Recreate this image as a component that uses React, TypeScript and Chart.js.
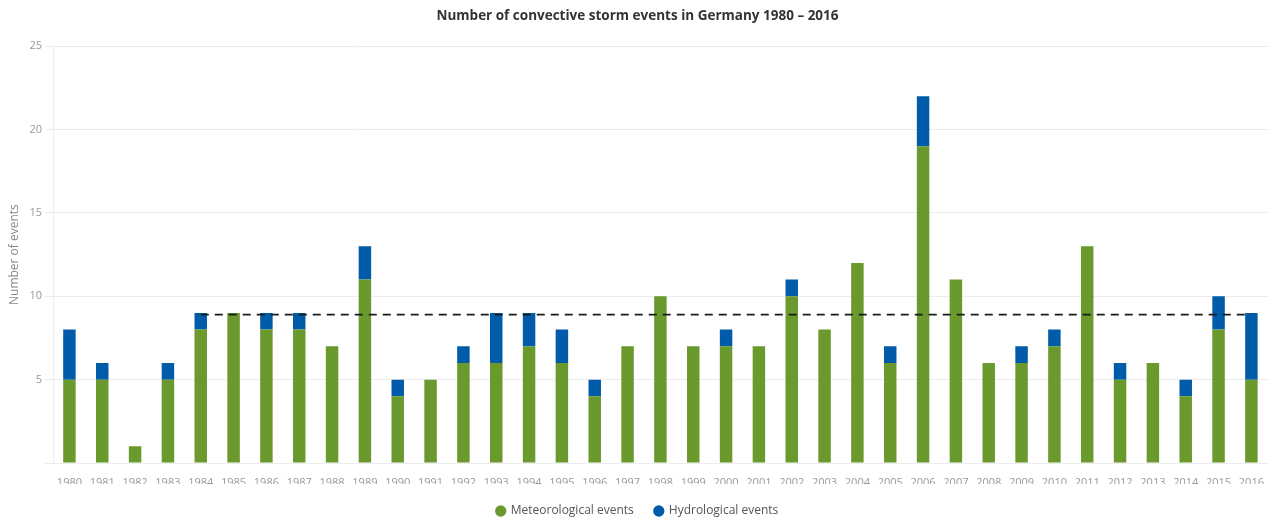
import React, { useEffect, useRef } from "react";
import { Chart, registerables } from "chart.js";

Chart.register(...registerables);

const years = [
  "1980","1981","1982","1983","1984","1985","1986","1987","1988","1989",
  "1990","1991","1992","1993","1994","1995","1996","1997","1998","1999",
  "2000","2001","2002","2003","2004","2005","2006","2007","2008","2009",
  "2010","2011","2012","2013","2014","2015","2016",
];
const meteorological = [5,5,1,5,8,9,8,8,7,11,4,5,6,6,7,6,4,7,10,7,7,7,10,8,12,6,19,11,6,6,7,13,5,6,4,8,5];
const hydrological = [3,1,0,1,1,0,1,1,0,2,1,0,1,3,2,2,1,0,0,0,1,0,1,0,0,1,3,0,0,1,1,0,1,0,1,2,4];
const averageValue = 8.9;
const averageStartYear = "1984";
const yTicks = [5, 10, 15, 20, 25];

const GREEN = "#6a992e";
const BLUE = "#005ca8";
const FONT = "'Open Sans', 'DejaVu Sans', sans-serif";

export default function App() {
  const ref = useRef<HTMLCanvasElement | null>(null);

  useEffect(() => {
    document.body.style.margin = "0";
    const canvas = ref.current;
    if (!canvas) return;
    const startIdx = years.indexOf(averageStartYear);
    const avg = years.map((_, i) => (i >= startIdx ? averageValue : null));

    const chart = new Chart(canvas, {
      type: "bar",
      data: {
        labels: years,
        datasets: [
          {
            label: "Meteorological events",
            data: meteorological,
            backgroundColor: GREEN,
            stack: "events",
            barPercentage: 0.38,
            categoryPercentage: 1,
            order: 2,
          },
          {
            label: "Hydrological events",
            data: hydrological,
            backgroundColor: BLUE,
            stack: "events",
            barPercentage: 0.38,
            categoryPercentage: 1,
            order: 2,
          },
          {
            type: "line",
            label: "Average",
            data: avg as any,
            borderColor: "#1a1a1a",
            borderWidth: 1.7,
            borderDash: [8, 6],
            pointRadius: 0,
            fill: false,
            stack: "avg",
            order: 1,
          } as any,
        ],
      },
      options: {
        responsive: false,
        animation: false,
        maintainAspectRatio: false,
        layout: { padding: { left: 0, right: 2, top: 0, bottom: -8 } },
        plugins: {
          title: {
            display: true,
            text: "Number of convective storm events in Germany 1980 – 2016",
            color: "#333",
            font: { family: FONT, size: 13.5, weight: "bold" },
            padding: { top: 8, bottom: 22 },
          },
          legend: {
            position: "bottom",
            labels: {
              filter: (item: any) => item.text !== "Average",
              usePointStyle: true,
              pointStyle: "circle",
              boxWidth: 8,
              boxHeight: 8,
              padding: 21,
              color: "#555",
              font: { family: FONT, size: 12 },
            },
          },
          tooltip: { enabled: false },
        },
        scales: {
          x: {
            stacked: true,
            grid: { display: false, drawTicks: false },
            border: { display: false },
            ticks: {
              color: "#999",
              font: { family: FONT, size: 11 },
              padding: 13,
              autoSkip: false,
              maxRotation: 0,
            },
            afterFit: (s: any) => {
              s.height = 21;
            },
          },
          y: {
            stacked: true,
            min: 0,
            max: 25,
            afterBuildTicks: (s: any) => {
              s.ticks = [0, ...yTicks].map((v) => ({ value: v }));
            },
            ticks: {
              color: "#999",
              font: { family: FONT, size: 11 },
              padding: 3,
              callback: (v: any) => (v === 0 ? "" : String(v)),
            },
            grid: { color: "#ececec", tickLength: 8 },
            border: { display: true, color: "#ececec" },
            title: {
              display: true,
              text: "Number of events",
              color: "#888",
              font: { family: FONT, size: 12 },
              padding: { top: 7, bottom: 0 },
            },
            afterFit: (s: any) => {
              s.width = 53;
            },
          },
        },
      },
    });
    return () => chart.destroy();
  }, []);

  return (
    <div style={{ width: 1277, height: 519, background: "#fff" }}>
      <canvas ref={ref} width={1277} height={519} style={{ display: "block", width: 1277, height: 519 }} />
    </div>
  );
}
